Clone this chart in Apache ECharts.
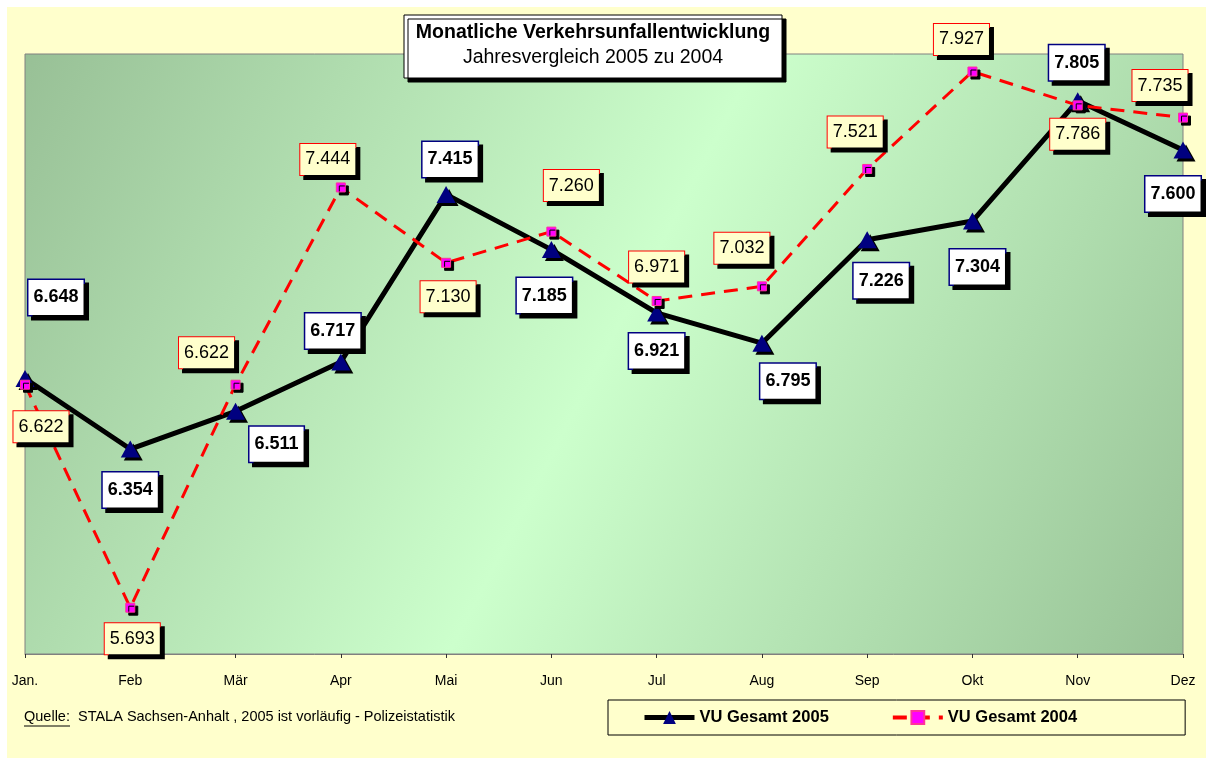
<!DOCTYPE html>
<html>
<head>
<meta charset="utf-8">
<title>Monatliche Verkehrsunfallentwicklung</title>
<script src="https://cdn.jsdelivr.net/npm/echarts@6/dist/echarts.min.js"></script>
<style>
    html, body { margin: 0; padding: 0; background: #fff; }
    #chart { position: absolute; left: 7px; top: 7px; width: 1199px; height: 751px; }
</style>
</head>
<body>
<div id="chart"></div>
<script>
// Monate und Werte (Tausend Verkehrsunfälle)
var months = ['Jan.', 'Feb', 'Mär', 'Apr', 'Mai', 'Jun', 'Jul', 'Aug', 'Sep', 'Okt', 'Nov', 'Dez'];
var vu2005 = [6.648, 6.354, 6.511, 6.717, 7.415, 7.185, 6.921, 6.795, 7.226, 7.304, 7.805, 7.600];
var vu2004 = [6.622, 5.693, 6.622, 7.444, 7.130, 7.260, 6.971, 7.032, 7.521, 7.927, 7.786, 7.735];

// Lage der Beschriftungen relativ zum Punkt (nur Layout)
var off2005 = [[31, -81], [0, 41], [41, 33], [-8, -31], [4, -35], [-7, 46],
               [0, 38], [26, 38], [14, 41], [5, 46], [-1, -38], [-10, 44]];
var off2004 = [[16, 42], [2, 31], [-29, -32], [-13, -28], [2, 34], [20, -46],
               [0, -34], [-20, -38], [-12, -37], [-11, -32], [0, 29], [-23, -32]];

var fontName = 'Arial, "Liberation Sans", sans-serif';

function buildData(values, offsets) {
    return values.map(function(v, i) {
        return { value: v, label: { offset: offsets[i] } };
    });
}

var myChart = echarts.init(document.getElementById('chart'));

var option = {
    backgroundColor: '#FFFFCC',
    animation: false,
    textStyle: { fontFamily: fontName },
    grid: {
        left: 18,
        top: 47,
        right: 23,
        bottom: 104,
        show: true,
        borderColor: '#808080',
        borderWidth: 1,
        backgroundColor: {
            type: 'linear', x: 0, y: 0, x2: 1, y2: 1,
            colorStops: [
                { offset: 0, color: '#98C096' },
                { offset: 0.5, color: '#CCFFCC' },
                { offset: 1, color: '#98C296' }
            ]
        }
    },
    legend: {
        left: 601,
        top: 693,
        padding: [9, 108, 9, 34],
        itemGap: 62,
        itemWidth: 50,
        itemHeight: 16,
        borderColor: '#000',
        borderWidth: 1,
        textStyle: { fontSize: 16.5, fontWeight: 'bold', color: '#000', fontFamily: fontName },
        data: [
            { name: 'VU Gesamt 2005', lineStyle: { width: 5 } },
            { name: 'VU Gesamt 2004', lineStyle: { width: 4 } }
        ]
    },
    xAxis: {
        type: 'category',
        data: months,
        boundaryGap: false,
        axisLine: { lineStyle: { color: '#808080', width: 1 } },
        axisTick: { show: true, length: 4, lineStyle: { color: '#333' } },
        axisLabel: { color: '#000', fontSize: 14, margin: 20, fontFamily: fontName },
        splitLine: { show: false }
    },
    yAxis: {
        type: 'value',
        min: 5.5,
        max: 8.0,
        show: false,
        splitLine: { show: false }
    },
    graphic: [
        // Titelkasten
        {
            type: 'rect',
            shape: { x: 397, y: 8, width: 378, height: 63 },
            style: {
                fill: '#fff', stroke: '#000', lineWidth: 1,
                shadowColor: '#000', shadowOffsetX: 4, shadowOffsetY: 4, shadowBlur: 0.01
            },
            z: 10
        },
        {
            type: 'text', x: 586, y: 26, z: 11,
            style: {
                text: 'Monatliche Verkehrsunfallentwicklung',
                font: 'bold 19.5px ' + fontName, fill: '#000',
                align: 'center', verticalAlign: 'middle'
            }
        },
        {
            type: 'text', x: 586, y: 51, z: 11,
            style: {
                text: 'Jahresvergleich 2005 zu 2004',
                font: '19.5px ' + fontName, fill: '#000',
                align: 'center', verticalAlign: 'middle'
            }
        },
        // Quelle
        {
            type: 'text', x: 17, y: 710,
            style: { text: 'Quelle:', font: '14.5px ' + fontName, fill: '#000', verticalAlign: 'middle' }
        },
        {
            type: 'line', shape: { x1: 17, y1: 719, x2: 63, y2: 719 },
            style: { stroke: '#000', lineWidth: 1 }
        },
        {
            type: 'text', x: 71, y: 710,
            style: { text: 'STALA Sachsen-Anhalt , 2005 ist vorläufig - Polizeistatistik', font: '14.5px ' + fontName, fill: '#000', verticalAlign: 'middle' }
        }
    ],
    series: [{
        name: 'VU Gesamt 2005',
        type: 'line',
        data: buildData(vu2005, off2005),
        symbol: 'triangle',
        symbolSize: [19, 17],
        lineStyle: { color: '#000', width: 5 },
        itemStyle: {
            color: '#000080',
            shadowColor: '#000',
            shadowOffsetX: 3,
            shadowOffsetY: 3,
            shadowBlur: 0.01
        },
        z: 3,
        label: {
            show: true,
            position: 'inside',
            formatter: function(p) { return p.value.toFixed(3); },
            fontSize: 18,
            fontWeight: 'bold',
            color: '#000',
            fontFamily: fontName,
            backgroundColor: '#fff',
            borderColor: '#000080',
            borderWidth: 1.5,
            padding: [9, 5, 8, 5],
            shadowColor: '#000',
            shadowOffsetX: 4,
            shadowOffsetY: 4,
            shadowBlur: 0.01
        }
    }, {
        name: 'VU Gesamt 2004',
        type: 'line',
        data: buildData(vu2004, off2004),
        symbol: 'rect',
        symbolSize: 9,
        lineStyle: { color: '#FF0000', width: 3, type: [14, 9] },
        itemStyle: {
            color: '#FF00FF',
            borderColor: '#FF3399',
            borderWidth: 1,
            shadowColor: '#000',
            shadowOffsetX: 3,
            shadowOffsetY: 3,
            shadowBlur: 0.01
        },
        z: 4,
        label: {
            show: true,
            position: 'inside',
            formatter: function(p) { return p.value.toFixed(3); },
            fontSize: 18,
            color: '#000',
            fontFamily: fontName,
            backgroundColor: '#FFFFCC',
            borderColor: '#FF0000',
            borderWidth: 1,
            padding: [7, 5, 6, 5],
            shadowColor: '#000',
            shadowOffsetX: 4,
            shadowOffsetY: 4,
            shadowBlur: 0.01
        }
    }]
};

myChart.setOption(option);
</script>
</body>
</html>
